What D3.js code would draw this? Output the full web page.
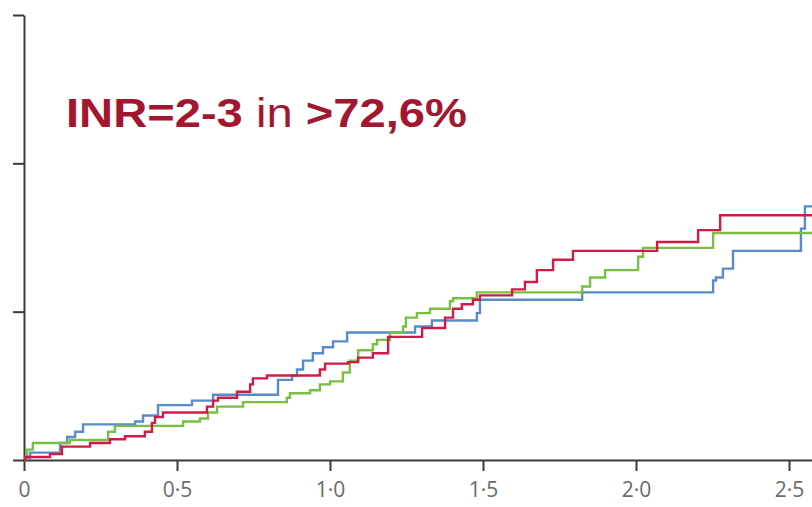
<!DOCTYPE html>
<html>
<head>
<meta charset="utf-8">
<script src="https://cdn.jsdelivr.net/npm/d3@7"></script>
<style>
  html, body { margin: 0; padding: 0; background: #fff; }
  svg { display: block; }
</style>
</head>
<body>
<svg id="chart" width="812" height="507"></svg>
<script>
// données : [temps (années), incidence cumulée]
const serieRouge = [
  [0, 0], [0.005, 0.02], [0.085, 0.04], [0.124, 0.09], [0.216, 0.115], [0.281, 0.14],
  [0.330, 0.16], [0.395, 0.19], [0.418, 0.25], [0.428, 0.29], [0.454, 0.32],
  [0.598, 0.36], [0.618, 0.40], [0.634, 0.42], [0.696, 0.46], [0.739, 0.51],
  [0.748, 0.55], [0.794, 0.57], [0.967, 0.61], [0.984, 0.65], [1.059, 0.66],
  [1.092, 0.69], [1.140, 0.72], [1.190, 0.83], [1.301, 0.89], [1.376, 0.96],
  [1.402, 1.02], [1.431, 1.05], [1.467, 1.08], [1.490, 1.11], [1.595, 1.15],
  [1.637, 1.20], [1.676, 1.28], [1.729, 1.35], [1.794, 1.41], [2.069, 1.47],
  [2.203, 1.55], [2.275, 1.65]
];
const serieBleue = [
  [0, 0], [0.005, 0.01], [0.020, 0.05], [0.118, 0.115], [0.141, 0.155], [0.167, 0.19],
  [0.193, 0.24], [0.363, 0.26], [0.389, 0.30], [0.438, 0.37], [0.549, 0.40],
  [0.618, 0.44], [0.830, 0.54], [0.876, 0.57], [0.892, 0.61], [0.912, 0.67],
  [0.944, 0.72], [0.977, 0.76], [1.010, 0.80], [1.056, 0.86], [1.278, 0.90],
  [1.333, 0.94], [1.480, 0.99], [1.490, 1.08], [1.824, 1.13], [2.252, 1.21],
  [2.261, 1.23], [2.284, 1.29], [2.317, 1.41], [2.539, 1.56], [2.552, 1.71]
];
const serieVerte = [
  [0, 0], [0.005, 0.01], [0.010, 0.07], [0.029, 0.115], [0.150, 0.135], [0.275, 0.19],
  [0.297, 0.23], [0.520, 0.26], [0.575, 0.28], [0.601, 0.32], [0.631, 0.36],
  [0.716, 0.39], [0.859, 0.42], [0.869, 0.45], [0.935, 0.47], [0.967, 0.51],
  [1.000, 0.53], [1.042, 0.59], [1.065, 0.67], [1.092, 0.74], [1.140, 0.78],
  [1.154, 0.81], [1.196, 0.86], [1.239, 0.90], [1.248, 0.96], [1.284, 0.99],
  [1.327, 1.02], [1.392, 1.07], [1.402, 1.09], [1.480, 1.13], [1.824, 1.17],
  [1.850, 1.23], [1.899, 1.28], [2.007, 1.37], [2.023, 1.43], [2.252, 1.53]
];
const ticksX = [0, 0.5, 1, 1.5, 2, 2.5];
const ticksY = [0, 1, 2, 3];
const titreParties = [
  { txt: "INR=2-3", gras: true },
  { txt: " in ", gras: false },
  { txt: ">72,6%", gras: true }
];

const svg = d3.select("#chart");
const xMax = 2.6;
const x = d3.scaleLinear().domain([0, xMax]).range([24, 24 + 306 * xMax]);
const y = d3.scaleLinear().domain([0, 3]).range([460, 15]);

// axes
const gX = svg.append("g").attr("transform", `translate(0,${y(0)})`)
  .call(d3.axisBottom(x).tickValues(ticksX).tickSize(11).tickSizeOuter(0).tickPadding(10)
    .tickFormat(d => d === 0 ? "0" : d.toFixed(1).replace(".", "·")));
const gY = svg.append("g").attr("transform", `translate(${x(0)},0)`)
  .call(d3.axisLeft(y).tickValues(ticksY).tickSize(11).tickSizeOuter(0).tickFormat(""));

[gX, gY].forEach(g => {
  g.select(".domain").attr("stroke", "#3a3a3a").attr("stroke-width", 2);
  g.selectAll(".tick line").attr("stroke", "#3a3a3a").attr("stroke-width", 2);
});
gX.selectAll(".tick line").attr("y1", 0).attr("y2", 11);
gX.selectAll(".tick text")
  .attr("fill", "#6b6b6b").attr("font-family", "'Open Sans', sans-serif")
  .attr("font-size", 21).attr("dy", "0.78em");

// courbes en escalier
const ligne = d3.line().x(d => x(d[0])).y(d => y(d[1])).curve(d3.curveStepAfter);
const series = [
  { data: serieBleue, couleur: "#5a8bc9" },
  { data: serieVerte, couleur: "#79be45" },
  { data: serieRouge, couleur: "#d01c45" }
];
series.forEach(s => {
  const pts = s.data.concat([[xMax, s.data[s.data.length - 1][1]]]);
  svg.append("path").datum(pts).attr("d", ligne)
    .attr("fill", "none").attr("stroke", s.couleur).attr("stroke-width", 2.4)
    .attr("stroke-linejoin", "miter");
});

// titre
const titre = svg.append("text")
  .attr("transform", "translate(66,127) scale(1.15,1)")
  .attr("font-family", "'Liberation Sans', Arial, sans-serif")
  .attr("font-size", 41).attr("fill", "#a3162f");
titre.selectAll("tspan").data(titreParties).join("tspan")
  .attr("font-weight", d => d.gras ? "bold" : "normal")
  .attr("xml:space", "preserve")
  .style("white-space", "pre")
  .text(d => d.txt);
</script>
</body>
</html>
